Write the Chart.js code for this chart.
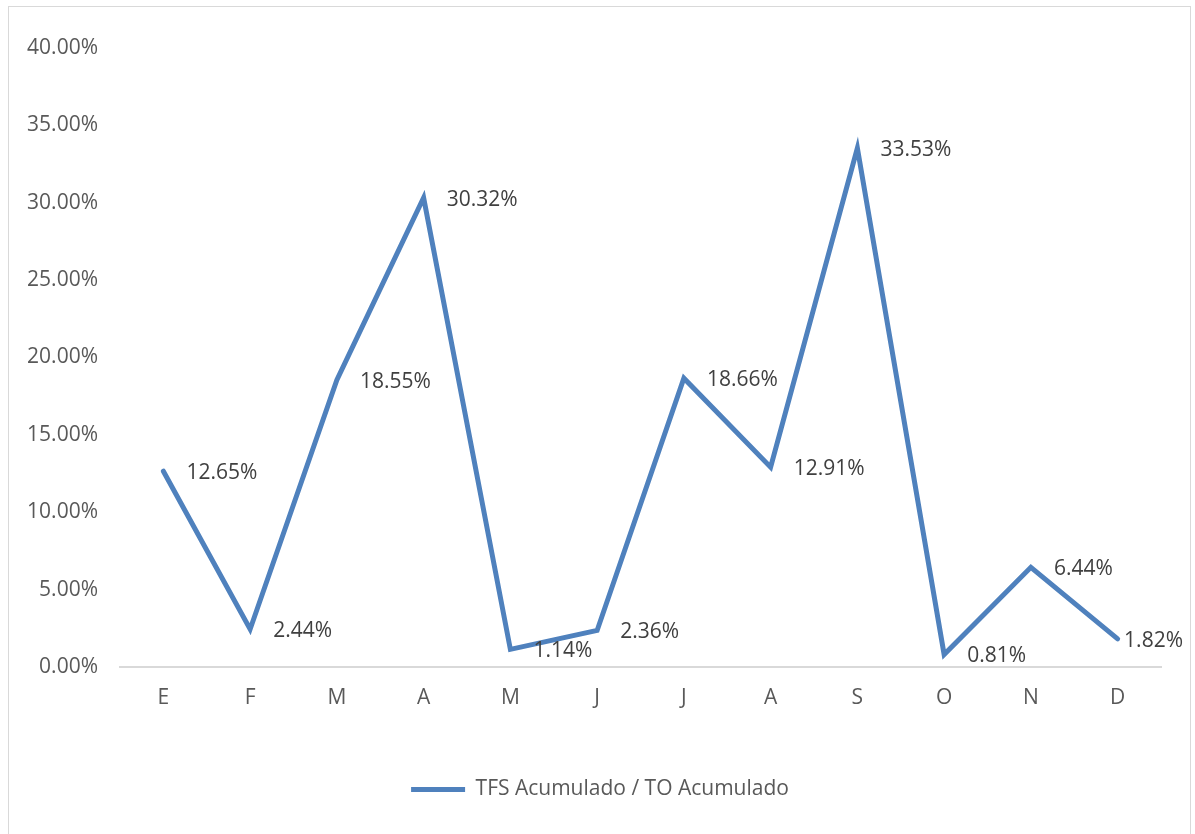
<!DOCTYPE html>
<html>
<head>
<meta charset="utf-8">
<script src="https://cdn.jsdelivr.net/npm/chart.js@4.4.1/dist/chart.umd.min.js"></script>
<style>
  html, body { margin: 0; padding: 0; background: #ffffff; }
  #frame {
    position: absolute; left: 8px; top: 6px; width: 1183px; height: 840px;
    border: 1px solid #d9d9d9; box-sizing: border-box; background: #ffffff;
  }
  #wrap { position: absolute; left: 0; top: 0; width: 1181px; height: 827px; }
</style>
</head>
<body>
<div id="frame"><div id="wrap"><canvas id="chart"></canvas></div></div>
<script>
const months = ['E', 'F', 'M', 'A', 'M', 'J', 'J', 'A', 'S', 'O', 'N', 'D'];
const ratio = [12.65, 2.44, 18.55, 30.32, 1.14, 2.36, 18.66, 12.91, 33.53, 0.81, 6.44, 1.82];
const seriesName = 'TFS Acumulado / TO Acumulado';
const yTicks = [0, 5, 10, 15, 20, 25, 30, 35, 40];

const FONT = '"Open Sans", "Liberation Sans", sans-serif';
const FONT_SIZE = 21;
const LINE_COLOR = '#4f81bd';

// Value labels placed to the right of each point, kept inside the canvas
const valueLabels = {
  id: 'valueLabels',
  afterDatasetsDraw(chart) {
    const ctx = chart.ctx;
    const meta = chart.getDatasetMeta(0);
    const data = chart.data.datasets[0].data;
    ctx.save();
    ctx.font = FONT_SIZE + 'px ' + FONT;
    ctx.fillStyle = '#404040';
    ctx.textAlign = 'left';
    ctx.textBaseline = 'middle';
    meta.data.forEach((pt, i) => {
      const text = data[i].toFixed(2) + '%';
      const w = ctx.measureText(text).width;
      const x = Math.min(pt.x + 23, chart.width - 7 - w);
      ctx.fillText(text, x, pt.y + 2);
    });
    ctx.restore();
  }
};

// Center the legend on the whole frame rather than on the padded area
const legendCenter = {
  id: 'legendCenter',
  afterLayout(chart) {
    const lg = chart.legend;
    if (!lg) return;
    const shift = 15;
    lg.left += shift;
    lg.right += shift;
  }
};

new Chart(document.getElementById('chart'), {
  type: 'line',
  data: {
    labels: months,
    datasets: [{
      label: seriesName,
      data: ratio,
      borderColor: LINE_COLOR,
      backgroundColor: LINE_COLOR,
      borderWidth: 5,
      borderCapStyle: 'round',
      borderJoinStyle: 'miter',
      pointRadius: 0,
      pointStyle: 'line',
      tension: 0,
      fill: false
    }]
  },
  options: {
    responsive: true,
    maintainAspectRatio: false,
    animation: false,
    layout: { padding: { top: 41, right: 29, bottom: 24, left: 0 } },
    plugins: {
      tooltip: { enabled: false },
      legend: {
        position: 'bottom',
        labels: {
          usePointStyle: true,
          pointStyleWidth: 54,
          boxWidth: 42,
          boxHeight: FONT_SIZE,
          padding: 0,
          color: '#595959',
          font: { family: FONT, size: FONT_SIZE }
        }
      }
    },
    scales: {
      x: {
        offset: true,
        grid: { display: false, drawTicks: false },
        border: { display: true, color: '#d9d9d9', width: 2 },
        ticks: { color: '#595959', font: { family: FONT, size: FONT_SIZE }, padding: 18 },
        afterFit(scale) { scale.height = 112; }
      },
      y: {
        min: 0,
        max: 40,
        afterBuildTicks(scale) { scale.ticks = yTicks.map(v => ({ value: v })); },
        grid: { display: false, drawTicks: false },
        border: { display: false },
        ticks: {
          color: '#595959',
          font: { family: FONT, size: FONT_SIZE },
          padding: 22,
          callback: v => v.toFixed(2) + '%'
        },
        afterFit(scale) { scale.width = 111; }
      }
    }
  },
  plugins: [valueLabels, legendCenter]
});
</script>
</body>
</html>
